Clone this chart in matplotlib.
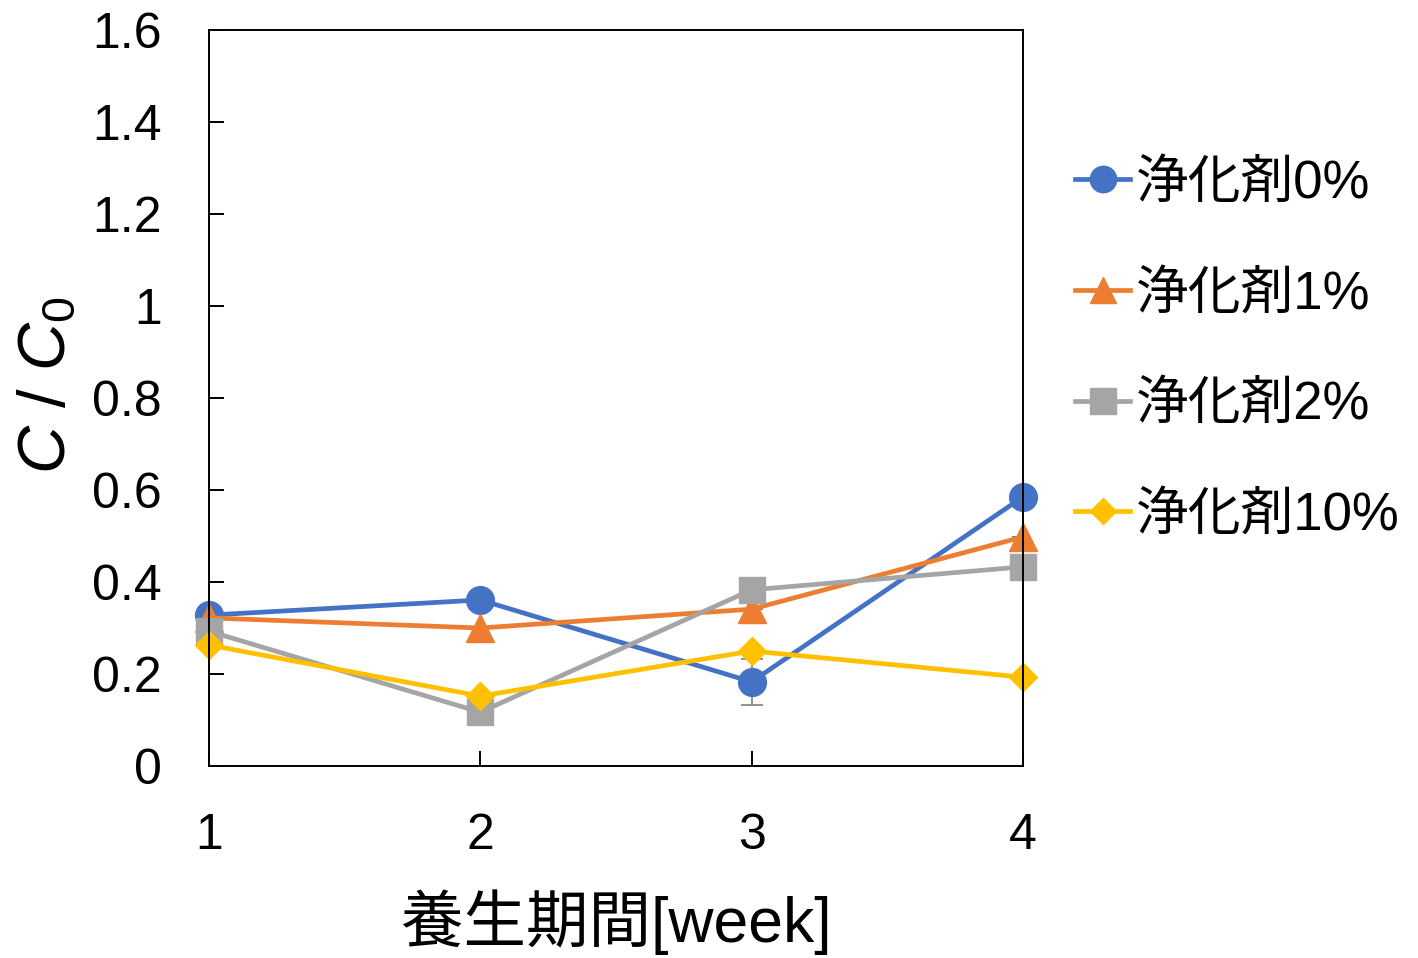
import matplotlib
matplotlib.use("Agg")
import matplotlib.pyplot as plt

plt.rcParams["font.family"] = ["Liberation Sans", "Noto Sans CJK JP", "DejaVu Sans"]
plt.rcParams["mathtext.fontset"] = "custom"
plt.rcParams["mathtext.rm"] = "Liberation Sans"
plt.rcParams["mathtext.it"] = "Liberation Sans:italic"

# 養生期間ごとの C/C0
weeks = [1, 2, 3, 4]
labels = ["浄化剤0%", "浄化剤1%", "浄化剤2%", "浄化剤10%"]
ratio_0 = [0.328, 0.361, 0.183, 0.585]
ratio_1 = [0.322, 0.300, 0.341, 0.498]
ratio_2 = [0.293, 0.117, 0.383, 0.433]
ratio_10 = [0.263, 0.152, 0.250, 0.193]
err_0 = [0.0, 0.0, 0.05, 0.0]
err_1 = [0.0, 0.0, 0.0, 0.0]
err_2 = [0.0, 0.0, 0.0, 0.0]
err_10 = [0.0, 0.0, 0.0, 0.0]
yticks = [0, 0.2, 0.4, 0.6, 0.8, 1, 1.2, 1.4, 1.6]
ytick_labels = ["0", "0.2", "0.4", "0.6", "0.8", "1", "1.2", "1.4", "1.6"]

series = [
    (ratio_0, err_0, "#4472C4", "o", 20),
    (ratio_1, err_1, "#ED7D31", "^", 20),
    (ratio_2, err_2, "#A5A5A5", "s", 19),
    (ratio_10, err_10, "#FFC000", "D", 14),
]

fig = plt.figure(figsize=(14.18, 9.58), dpi=100)
ax = fig.add_axes([0.1474, 0.2004, 0.5740, 0.7683])

for (vals, errs, color, marker, ms), label in zip(series, labels):
    ax.errorbar(weeks, vals, yerr=errs, fmt="none", ecolor="#7F7F7F",
                elinewidth=1.2, capsize=8, capthick=1.2, zorder=1)
    ax.plot(weeks, vals, color=color, marker=marker, markersize=ms,
            linewidth=3.4, label=label, zorder=2, clip_on=False)

ax.set_xlim(1, 4)
ax.set_ylim(0, 1.6)
ax.set_xticks(weeks)
ax.set_yticks(yticks)
ax.set_yticklabels(ytick_labels)
ax.tick_params(direction="in", length=11, width=1.4, labelsize=36, pad=34,
               colors="black")
for spine in ax.spines.values():
    spine.set_linewidth(1.4)
    spine.set_color("black")

ax.set_xlabel("養生期間[week]", fontsize=45, va="center", ha="center")
ax.xaxis.set_label_coords(0.5, -0.212)
ax.set_ylabel(r"$C$ / $C_{\mathrm{0}}$", fontsize=48, va="center", ha="center")
ax.yaxis.set_label_coords(-0.199, 0.518)

ax.legend(loc="center left", bbox_to_anchor=(0.758, 0.635),
          bbox_transform=fig.transFigure, frameon=False, fontsize=38,
          borderpad=0, borderaxespad=0, handlelength=1.05,
          handletextpad=0.1, labelspacing=1.15, markerscale=0.95)

fig.savefig("out.png", dpi=100)
